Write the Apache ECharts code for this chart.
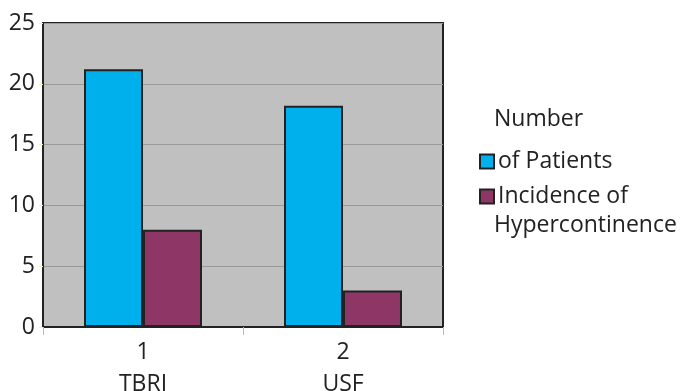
<!DOCTYPE html>
<html>
<head>
<meta charset="utf-8">
<script src="https://cdn.jsdelivr.net/npm/echarts@6/dist/echarts.min.js"></script>
<style>
  html, body { margin: 0; padding: 0; background: #fff; }
  #chart { width: 684px; height: 391px; }
</style>
</head>
<body>
<div id="chart"></div>
<script>
// categories and values
const categories = ["1\nTBRI", "2\nUSF"];
const patients = [21.2, 18.2];
const hypercontinence = [8, 3];
const seriesNames = ["of Patients", "Incidence of"];

const chart = echarts.init(document.getElementById("chart"));
const font = "'Open Sans', 'Noto Sans', sans-serif";
const fs = 23;

const option = {
    animation: false,
    backgroundColor: "#fff",
    grid: {
        left: 43,
        right: 241,
        top: 23,
        bottom: 64,
        outerBoundsMode: "none",
        containLabel: false,
        show: true,
        backgroundColor: "#c0c0c0",
        borderColor: "#222",
        borderWidth: 2,
    },
    legend: {
        orient: "vertical",
        left: 474,
        top: 145,
        itemWidth: 14,
        itemHeight: 14,
        itemGap: 12,
        icon: "rect",
        data: seriesNames,
        textStyle: { fontFamily: font, fontSize: fs, color: "#222", padding: [0, 0, 0, -1] },
    },
    // the first and last line of the two-line legend entries
    graphic: [
        {
            type: "text",
            left: 494,
            top: 108,
            style: { text: "Number", fontFamily: font, fontSize: fs, fill: "#222" },
        },
        {
            type: "text",
            left: 494,
            top: 214,
            style: { text: "Hypercontinence", fontFamily: font, fontSize: fs, fill: "#222" },
        },
    ],
    xAxis: {
        type: "category",
        data: categories,
        axisLine: { show: true, lineStyle: { color: "#222", width: 2 } },
        axisTick: { show: true, length: 8, lineStyle: { color: "#bbb" } },
        axisLabel: {
            fontFamily: font,
            fontSize: fs,
            color: "#222",
            lineHeight: 32,
            margin: 9,
        },
    },
    yAxis: {
        type: "value",
        min: 0,
        max: 25,
        interval: 5,
        axisLine: { show: true, lineStyle: { color: "#222", width: 2 } },
        axisTick: { show: true, length: 4, lineStyle: { color: "#f3f0c0" } },
        axisLabel: { fontFamily: font, fontSize: fs, color: "#222", margin: 8 },
        splitLine: { show: true, lineStyle: { color: "#999", width: 1 } },
    },
    series: [
        {
            name: seriesNames[0],
            type: "bar",
            data: patients,
            barWidth: 59,
            barGap: "0%",
            itemStyle: { color: "#00b0ec", borderColor: "#222", borderWidth: 2 },
        },
        {
            name: seriesNames[1],
            type: "bar",
            data: hypercontinence,
            barWidth: 59,
            barGap: "0%",
            itemStyle: { color: "#8e3766", borderColor: "#222", borderWidth: 2 },
        },
    ],
};

chart.setOption(option);
</script>
</body>
</html>
